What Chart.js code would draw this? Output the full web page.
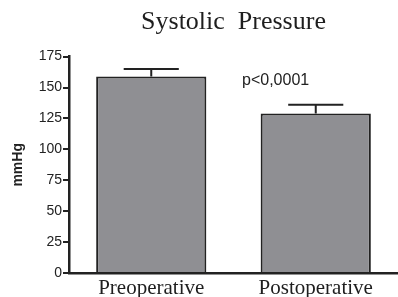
<!DOCTYPE html>
<html>
<head>
<meta charset="utf-8">
<script src="https://cdn.jsdelivr.net/npm/chart.js@4.4.0/dist/chart.umd.min.js"></script>
<style>
  html, body { margin: 0; padding: 0; background: #fff; }
  #wrap { width: 398px; height: 297px; }
</style>
</head>
<body>
<div id="wrap"><canvas id="chart"></canvas></div>
<script>
// values
const categories = ['Preoperative', 'Postoperative'];
const means = [159, 129];
const errors = [6, 7];
const yTicks = [0, 25, 50, 75, 100, 125, 150, 175];
const pLabel = 'p<0,0001';

// draws the upper error bar (whisker + cap) for each bar
const errorBars = {
    id: 'errorBars',
    afterDatasetsDraw(chart) {
        const ctx = chart.ctx;
        const meta = chart.getDatasetMeta(0);
        const y = chart.scales.y;
        ctx.save();
        ctx.strokeStyle = '#222';
        ctx.lineWidth = 2;
        meta.data.forEach((bar, i) => {
            const top = y.getPixelForValue(means[i] + errors[i]);
            const half = bar.width / 4;
            ctx.beginPath();
            ctx.moveTo(bar.x, bar.y);
            ctx.lineTo(bar.x, top);
            ctx.moveTo(bar.x - half, top);
            ctx.lineTo(bar.x + half, top);
            ctx.stroke();
        });
        // significance note
        ctx.fillStyle = '#222';
        ctx.font = '16px "Liberation Sans", Arial, sans-serif';
        ctx.textBaseline = 'middle';
        ctx.fillText(pLabel, 242, y.getPixelForValue(156));
        ctx.restore();
    }
};

new Chart(document.getElementById('chart'), {
    type: 'bar',
    data: {
        labels: categories,
        datasets: [{
            data: means,
            backgroundColor: '#8f8f93',
            borderColor: '#222',
            borderWidth: 2,
            borderSkipped: 'bottom',
            categoryPercentage: 1,
            barPercentage: 0.67
        }]
    },
    options: {
        responsive: true,
        maintainAspectRatio: false,
        animation: false,
        layout: { padding: { top: 0, right: 0, left: 0, bottom: 0 } },
        plugins: {
            legend: { display: false },
            tooltip: { enabled: false },
            title: {
                display: true,
                text: 'Systolic  Pressure',
                fullSize: false,
                color: '#1e1e1e',
                font: { family: '"Liberation Serif", "Times New Roman", serif', size: 26, weight: 'normal', lineHeight: 1.1 },
                padding: { top: 8, bottom: 20 }
            }
        },
        scales: {
            x: {
                afterFit(scale) { scale.height = 24; },
                grid: { display: false, drawTicks: false },
                border: { display: true, color: '#222', width: 2.5 },
                ticks: {
                    color: '#1e1e1e',
                    padding: 3,
                    font: { family: '"Liberation Serif", "Times New Roman", serif', size: 21 }
                }
            },
            y: {
                min: 0,
                max: 175,
                afterFit(scale) { scale.width = 69; },
                afterBuildTicks(scale) { scale.ticks = yTicks.map(v => ({ value: v })); },
                grid: { drawOnChartArea: false, drawTicks: true, tickLength: 6, color: '#222', lineWidth: 2 },
                border: { display: true, color: '#222', width: 2.5 },
                ticks: {
                    color: '#222',
                    padding: 1,
                    font: { family: '"Liberation Sans", Arial, sans-serif', size: 14 }
                },
                title: {
                    display: true,
                    text: 'mmHg',
                    color: '#222',
                    padding: { top: 10, bottom: 0 },
                    font: { family: '"Liberation Sans", Arial, sans-serif', size: 14, weight: 'bold' }
                }
            }
        }
    },
    plugins: [errorBars]
});
</script>
</body>
</html>
